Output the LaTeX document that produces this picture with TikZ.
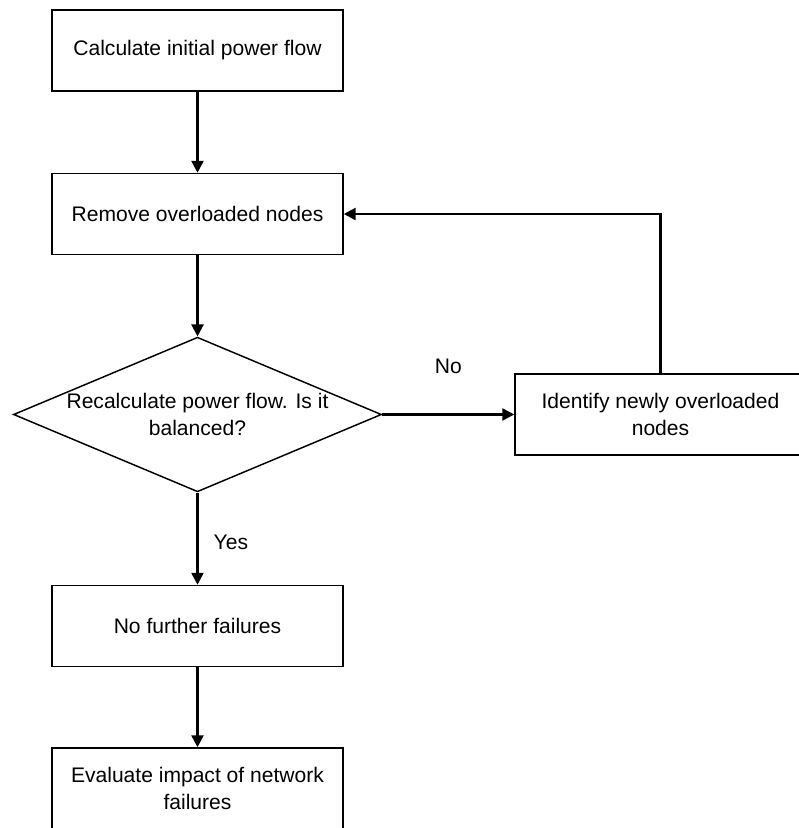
\documentclass[tikz,border=0pt]{standalone}
\usepackage{fontspec}
\setmainfont{Liberation Sans}
\usetikzlibrary{arrows.meta,shapes.geometric,positioning}

\tikzset{
  procbox/.style={draw, line width=1.1pt, minimum width=218.25pt, minimum height=60.75pt, align=center, inner sep=0pt},
  decbox/.style={draw, diamond, aspect=2.38, line width=1.1pt, minimum width=276pt, minimum height=116pt, align=center, inner sep=0pt},
  flowarr/.style={line width=1.8pt, -{Triangle[length=9pt,width=9pt]}},
}

\begin{document}
\begin{tikzpicture}[x=0.75pt,y=0.75pt,yscale=-1,font=\fontsize{15.8}{20}\selectfont]
\useasboundingbox (0,0) rectangle (799,828);
\clip (0,0) rectangle (799,828);

% Steps
\node[procbox] (calc) at (197.5,50.5) {Calculate initial power flow};
\node[procbox] (remove) at (197.5,214) {Remove overloaded nodes};
\node[decbox] (recalc) at (197.5,414.5) {Recalculate power flow. Is it\\balanced?};
\node[procbox] (ident) at (660.5,414.5) {Identify newly overloaded\\nodes};
\node[procbox] (nofail) at (197.5,626) {No further failures};
\node[procbox] (eval) at (197.5,788.5) {Evaluate impact of network\\failures};

% Connectors
\draw[flowarr] (calc) -- (remove);
\draw[flowarr] (remove) -- (recalc);
\draw[flowarr] (recalc) -- node[midway, yshift=36pt] {No} (ident);
\draw[flowarr] (ident.north) |- (remove.east);
\draw[flowarr] (recalc) -- node[midway, xshift=25pt, yshift=-3pt] {Yes} (nofail);
\draw[flowarr] (nofail) -- (eval);

\end{tikzpicture}
\end{document}
